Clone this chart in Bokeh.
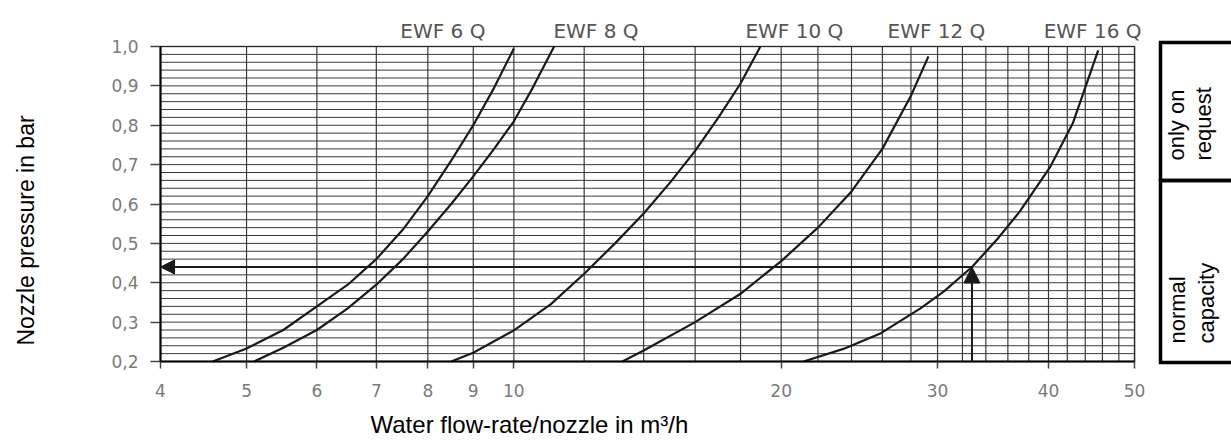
import math
from bokeh.plotting import figure
from bokeh.models import FixedTicker, CustomJSTickFormatter, Arrow, NormalHead, BoxAnnotation
from bokeh.core.properties import value
from bokeh.embed import file_html
from bokeh.resources import INLINE

# ---------------- data ----------------
ewf6_flow = [4.58, 5.0, 5.5, 6.0, 6.5, 7.0, 7.5, 8.0, 8.5, 9.0, 9.5, 10.0]
ewf6_pressure = [0.20, 0.233, 0.28, 0.34, 0.395, 0.46, 0.535, 0.62, 0.71, 0.80, 0.895, 0.995]

ewf8_flow = [5.1, 5.5, 6.0, 6.5, 7.0, 7.5, 8.0, 8.5, 9.0, 9.5, 10.0, 10.5, 11.1]
ewf8_pressure = [0.20, 0.235, 0.28, 0.335, 0.395, 0.46, 0.53, 0.60, 0.67, 0.74, 0.81, 0.895, 1.0]

ewf10_flow = [8.5, 9.0, 10.0, 11.0, 12.0, 13.0, 14.0, 15.0, 16.0, 17.0, 18.0, 18.95]
ewf10_pressure = [0.20, 0.222, 0.279, 0.345, 0.423, 0.50, 0.576, 0.655, 0.735, 0.82, 0.906, 1.0]

ewf12_flow = [13.25, 14.0, 16.0, 18.0, 20.0, 22.0, 24.0, 26.0, 28.0, 29.3]
ewf12_pressure = [0.20, 0.228, 0.30, 0.372, 0.455, 0.54, 0.632, 0.74, 0.875, 0.975]

ewf16_flow = [21.2, 23.5, 25.9, 28.7, 30.5, 32.8, 35.0, 37.1, 40.2, 42.6, 45.5]
ewf16_pressure = [0.20, 0.232, 0.272, 0.335, 0.378, 0.44, 0.51, 0.58, 0.695, 0.805, 0.99]

series_names = ["EWF 6  Q", "EWF 8 Q", "EWF 10 Q", "EWF 12 Q", "EWF 16 Q"]
series_label_flow = [7.45, 11.08, 18.23, 26.35, 39.5]

example_flow = 32.8
example_pressure = 0.44

x_ticks = [4, 5, 6, 7, 8, 9, 10, 20, 30, 40, 50]
x_grid = [4, 5, 6, 7, 8, 9, 10, 12, 14, 16, 18, 20, 22, 24, 26, 28, 30,
          32, 34, 36, 38, 40, 42, 44, 46, 48, 50]
y_ticks = [0.2, 0.3, 0.4, 0.5, 0.6, 0.7, 0.8, 0.9, 1.0]
y_grid = [round(0.2 + 0.02 * i, 2) for i in range(41)]

x_title = "Water flow-rate/nozzle in m\u00b3/h"
y_title = "Nozzle pressure in bar"
box_texts = ["only on", "request", "normal", "capacity"]

# ---------------- layout geometry (pixels on the canvas) ----------------
W, H = 1231, 441
BOX_L, BOX_T, BOX_B = 160, 46, 361          # chart box: left, top (p=1.0), bottom (p=0.2)
PX_DEC = 888.0                              # pixels per decade on the flow axis
PX_UNIT = (BOX_B - BOX_T) / 0.8             # pixels per bar

X0, X1 = x_ticks[0], x_ticks[-1]
Y0, Y1 = y_ticks[0], y_ticks[-1]


def xd(px):   # canvas x pixel -> flow value (log axis)
    return X0 * 10 ** ((px - BOX_L) / PX_DEC)


def yd(py):   # canvas y pixel -> pressure value
    return Y0 + (BOX_B - py) / PX_UNIT


GRID = "#3a3a3a"
TICKTXT = "#7a7a7a"
INK = "#1a1a1a"

p = figure(width=W, height=H, x_axis_type="log",
           x_range=(xd(0), xd(W)), y_range=(yd(H), yd(0)),
           min_border=0, min_border_left=0, min_border_right=0,
           min_border_top=0, min_border_bottom=0,
           toolbar_location=None, output_backend="svg")
p.background_fill_color = "white"
p.border_fill_color = "white"
p.outline_line_color = None
p.grid.visible = False

# rulings, limited to the chart box
p.segment(x0=[X0] * len(y_grid), y0=y_grid, x1=[X1] * len(y_grid), y1=y_grid,
          line_color=GRID, line_width=1.0)
p.segment(x0=x_grid, y0=[Y0] * len(x_grid), x1=x_grid, y1=[Y1] * len(x_grid),
          line_color=GRID, line_width=1.2)
p.add_layout(BoxAnnotation(left=X0, right=X1, bottom=Y0, top=Y1,
                           fill_color=None, fill_alpha=0,
                           line_color="black", line_width=2))

# axes pinned to the chart box
p.xaxis.fixed_location = Y0
p.yaxis.fixed_location = X0
p.xaxis.bounds = (X0, X1)
p.yaxis.bounds = (Y0, Y1)
p.xaxis.ticker = FixedTicker(ticks=x_ticks)
p.xaxis.formatter = CustomJSTickFormatter(code="return String(Math.round(tick));")
p.yaxis.ticker = FixedTicker(ticks=y_ticks)
p.yaxis.formatter = CustomJSTickFormatter(code="return tick.toFixed(1).replace('.', ',');")
for ax in (p.xaxis, p.yaxis):
    ax.axis_line_color = "black"
    ax.axis_line_width = 2
    ax.major_tick_line_color = "#444444"
    ax.major_tick_line_width = 1.5
    ax.major_tick_in = 0
    ax.minor_tick_line_color = None
    ax.major_label_text_font = "DejaVu Sans"
    ax.major_label_text_font_size = "17px"
    ax.major_label_text_color = TICKTXT
p.yaxis.major_tick_out = 10
p.yaxis.major_label_standoff = 12
p.xaxis.major_tick_out = 7
p.xaxis.major_label_standoff = 15

# characteristic curves
curves = [(ewf6_flow, ewf6_pressure), (ewf8_flow, ewf8_pressure),
          (ewf10_flow, ewf10_pressure), (ewf12_flow, ewf12_pressure),
          (ewf16_flow, ewf16_pressure)]
for fx, fy in curves:
    p.line(fx, fy, line_color=INK, line_width=2.2, line_join="round")

# example reading arrows
p.add_layout(Arrow(end=NormalHead(size=14, fill_color=INK, line_color=INK),
                   x_start=example_flow, y_start=example_pressure,
                   x_end=X0, y_end=example_pressure,
                   line_color=INK, line_width=2))
p.add_layout(Arrow(end=NormalHead(size=16, fill_color=INK, line_color=INK),
                   x_start=example_flow, y_start=Y0,
                   x_end=example_flow, y_end=example_pressure,
                   line_color=INK, line_width=2))

# series labels above the chart box
p.text(x=series_label_flow, y=[yd(30)] * len(series_names), text=series_names,
       text_align="left", text_baseline="middle",
       text_font=value("DejaVu Sans"), text_font_size="20px", text_color="#555555")

# axis titles
p.text(x=[xd(25)], y=[yd(345)], text=[y_title], angle=math.pi / 2,
       text_align="left", text_baseline="middle",
       text_font=value("Liberation Sans"), text_font_size="23px", text_color="black")
p.text(x=[xd(370)], y=[yd(424)], text=[x_title],
       text_align="left", text_baseline="middle",
       text_font=value("Liberation Sans"), text_font_size="24px", text_color="black")

# side boxes
p.quad(left=[xd(1160)] * 2, right=[xd(W + 40)] * 2,
       top=[yd(42), yd(180)], bottom=[yd(180), yd(362)],
       fill_color=None, line_color="black", line_width=3.5, line_join="miter")
p.text(x=[xd(1176), xd(1203), xd(1177), xd(1206)],
       y=[yd(160), yd(160), yd(343), yd(343)],
       text=box_texts, angle=math.pi / 2, text_align="left", text_baseline="middle",
       text_font=value("Liberation Sans"), text_font_size="22px", text_color="black")

open("out.html", "w").write(file_html(p, INLINE))
